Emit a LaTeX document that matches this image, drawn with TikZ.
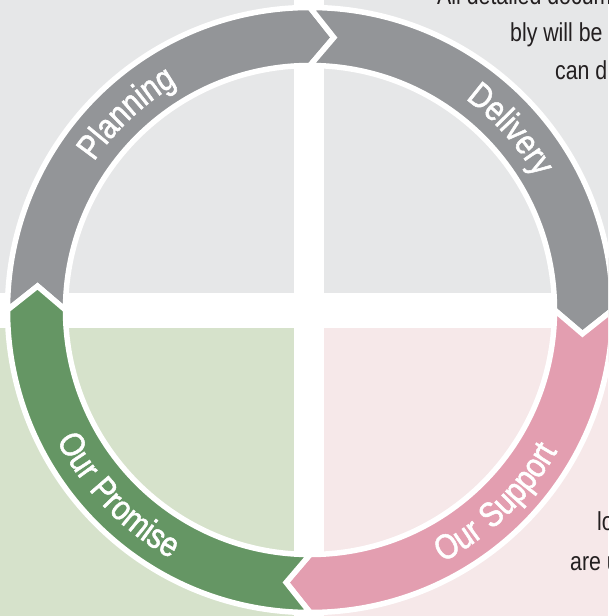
\documentclass[tikz,border=0pt]{standalone}
\usepackage{fontspec}
\usepackage{xcolor}
\setmainfont{Liberation Sans}[FakeStretch=0.82]
\newfontfamily\bandfont{Liberation Sans}[FakeStretch=0.84, FakeBold=1.5, LetterSpace=5]
\usetikzlibrary{decorations.text}
\definecolor{vpalegray}{HTML}{e6e7e8}
\definecolor{vgray}{HTML}{939598}
\definecolor{vpalegreen}{HTML}{d6e2cb}
\definecolor{vgreen}{HTML}{659664}
\definecolor{vpalepink}{HTML}{f6e8e9}
\definecolor{vpink}{HTML}{e39eb0}
\definecolor{vink}{HTML}{231f20}
\tikzset{
	bodytext/.style={anchor=base west, inner sep=0pt, text=vink, font=\fontsize{26}{39}\selectfont},
	bandlabel/.style={decorate, decoration={text along path, text align=center, text color=white,
		text={|\bandfont\fontsize{35}{35}\selectfont|#1}}}
}

\begin{document}
\begin{tikzpicture}[x=1pt, y=1pt]
		\useasboundingbox (-310,-306) rectangle (298,310);
		\clip (-310,-306) rectangle (298,310);
		% quarters
		\fill[vpalegray] (-310,17) rectangle (-16,310);
		\fill[vpalegray] (14,17) rectangle (298,310);
		\fill[vpalegreen] (-310,-306) rectangle (-16,-18);
		\fill[vpalepink] (14,-306) rectangle (298,-18);
		% text beside the ring
		\node[bodytext] (docA) at (127,305) {All detailed docum};
		\node[bodytext] (docB) at (200,268) {bly will be};
		\node[bodytext] (docC) at (245,230) {can d};
		\node[bodytext] (supA) at (287,-220) {lo};
		\node[bodytext] (supB) at (260,-260) {are u};
		% ring
		\foreach \a/\c in {180/vgray, 90/vgray, 0/vpink, -90/vgreen}
			\filldraw[fill=\c, draw=white, line width=5.5] (\a:302.5) arc[start angle=\a, end angle=\a-90, radius=302.5]
				-- ({\a-95}:273.5) -- ({\a-90}:244.5) arc[start angle=\a-90, end angle=\a, radius=244.5]
				-- ({\a-5}:273.5) -- cycle;
		\path[bandlabel=Planning] (163:262) arc[start angle=163, end angle=103, radius=262];
		\path[bandlabel=Delivery] (72:262) arc[start angle=72, end angle=12, radius=262];
		\path[bandlabel=Our Support] (-76:285) arc[start angle=-76, end angle=-16, radius=285];
		\path[bandlabel=Our Promise] (194:285) arc[start angle=194, end angle=254, radius=285];
	\end{tikzpicture}
\end{document}
